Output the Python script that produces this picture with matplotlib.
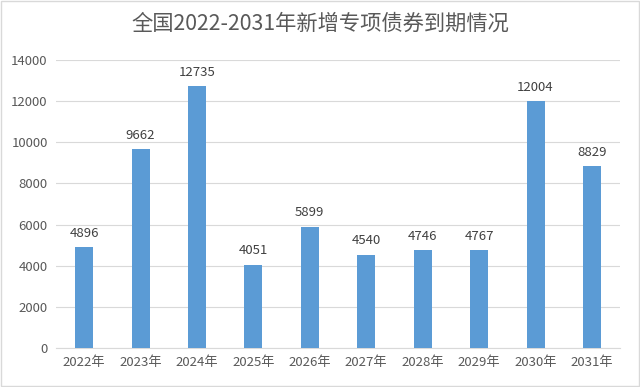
import matplotlib
matplotlib.use("Agg")
import matplotlib.pyplot as plt
from matplotlib.patches import Rectangle

plt.rcParams['font.family'] = ['Noto Sans CJK SC', 'DejaVu Sans']

years = ["2022年", "2023年", "2024年", "2025年", "2026年", "2027年", "2028年", "2029年", "2030年", "2031年"]
values = [4896, 9662, 12735, 4051, 5899, 4540, 4746, 4767, 12004, 8829]
yticks = [0, 2000, 4000, 6000, 8000, 10000, 12000, 14000]

fig = plt.figure(figsize=(6.4, 3.87), dpi=100)
ax = fig.add_axes([0.0875, 0.1008, 0.8815, 0.7442])

x = list(range(len(years)))
bars = ax.bar(x, values, width=0.32, color="#5B9BD5", zorder=3)
for xi, v in zip(x, values):
    ax.text(xi, v + 350, str(v), ha="center", va="bottom", fontsize=9.5, color="#404040")

ax.set_xlim(-0.5, len(years) - 0.5)
ax.set_ylim(0, 14000)
ax.set_yticks(yticks)
ax.set_yticklabels([str(t) for t in yticks], fontsize=9.5, color="#595959")
ax.set_xticks(x)
ax.set_xticklabels(years, fontsize=9.5, color="#595959")
ax.tick_params(axis="both", length=0, pad=6)
ax.yaxis.grid(True, color="#D9D9D9", linewidth=0.8, zorder=0)
for s in ["top", "right", "left"]:
    ax.spines[s].set_visible(False)
ax.spines["bottom"].set_color("#D9D9D9")
ax.set_axisbelow(True)

fig.text(0.5, 0.94, "全国2022-2031年新增专项债券到期情况", ha="center", va="center",
         fontsize=15.3, color="#595959")

fig.patches.append(Rectangle((0.002, 0.003), 0.996, 0.994, transform=fig.transFigure,
                             fill=False, edgecolor="#D9D9D9", linewidth=1))

fig.savefig("out.png", dpi=100)
